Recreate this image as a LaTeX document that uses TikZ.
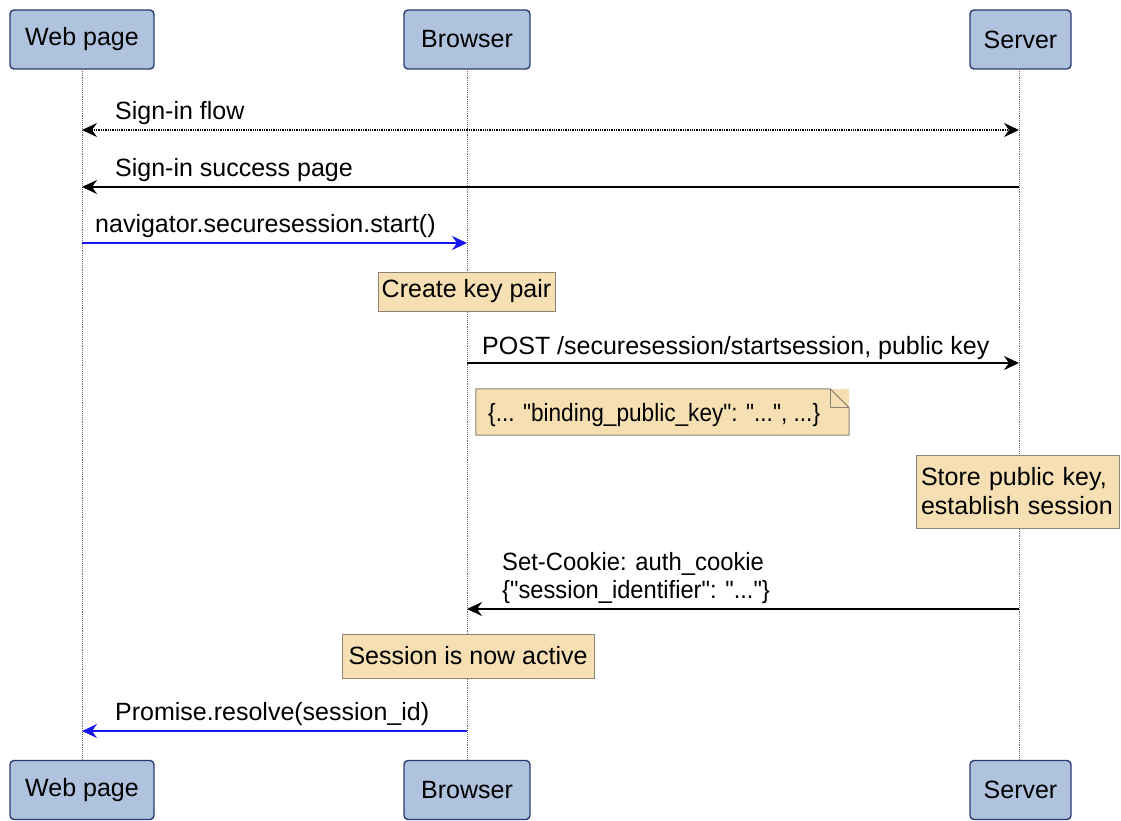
\documentclass[tikz,border=0pt]{standalone}
\usepackage{fontspec}
\usepackage{graphicx}
\setmainfont{Liberation Sans}[Ligatures=TeXOff]
\usetikzlibrary{arrows.meta}

\definecolor{actorfill}{HTML}{AFC3DF}
\definecolor{actorline}{HTML}{2B3A6E}
\definecolor{notefill}{HTML}{F5DFB3}
\definecolor{noteline}{HTML}{8C8474}
\definecolor{callblue}{HTML}{1616EE}
\definecolor{lifegray}{HTML}{6A6A78}

\begin{document}
\begin{tikzpicture}[x=1pt,y=-1pt,
  font=\fontsize{25}{29}\selectfont,
  actor/.style={draw=actorline, fill=actorfill, rounded corners=4pt,
    line width=1.4pt, minimum height=59pt, inner sep=0pt},
  lifeline/.style={draw=lifegray, densely dotted, line width=0.9pt},
  notebox/.style={draw=noteline, fill=notefill, line width=1pt, inner sep=0pt},
  tip/.style={-{Stealth[length=15pt,width=14pt,inset=5pt]}},
  msg/.style={tip, line width=1.5pt, black},
  call/.style={tip, line width=1.5pt, callblue},
  lbl/.style={anchor=base west, inner sep=0pt}]

\useasboundingbox (0,0) rectangle (1121,821);

% participants
\node[actor, minimum width=144pt] (webT) at (82,39.5)   {Web page};
\node[actor, minimum width=126pt] (brwT) at (467,39.5)  {Browser};
\node[actor, minimum width=101pt] (srvT) at (1020.5,39.5) {Server};
\node[actor, minimum width=144pt] (webB) at (82,790)    {Web page};
\node[actor, minimum width=126pt] (brwB) at (467,790)   {Browser};
\node[actor, minimum width=101pt] (srvB) at (1020.5,790) {Server};

% lifelines
\coordinate (webTop) at (82,69);    \coordinate (webBot) at (82,760.5);
\coordinate (brwTop) at (467,69);   \coordinate (brwBot) at (467,760.5);
\coordinate (srvTop) at (1019,69);  \coordinate (srvBot) at (1019,760.5);
\draw[lifeline] (webTop) -- (webBot);
\draw[lifeline] (brwTop) -- (brwBot);
\draw[lifeline] (srvTop) -- (srvBot);

% message end points
\coordinate (w1) at (82,130);   \coordinate (s1) at (1019,130);
\coordinate (w2) at (82,187);   \coordinate (s2) at (1019,187);
\coordinate (w3) at (82,243);   \coordinate (b3) at (467,243);
\coordinate (b5) at (467,363);  \coordinate (s5) at (1019,363);
\coordinate (b8) at (467,609);  \coordinate (s8) at (1019,609);
\coordinate (w10) at (82,731);  \coordinate (b10) at (467,731);

% sign-in flow (both directions)
\draw[line width=1.3pt, densely dotted, black,
  {Stealth[length=15pt,width=14pt,inset=5pt]}-{Stealth[length=15pt,width=14pt,inset=5pt]}]
  (w1) -- (s1);
\node[lbl] (m1) at (115,120) {Sign-in flow};

\draw[msg] (s2) -- (w2);
\node[lbl] (m2) at (115,177) {Sign-in success page};

\draw[call] (w3) -- (b3);
\node[lbl] (m3) at (95,233) {navigator.securesession.start()};

\node[notebox, minimum width=177pt, minimum height=39pt] (keypair) at (466.5,291.5) {Create key pair};

\draw[msg] (b5) -- (s5);
\node[lbl] (m5) at (482,354) {POST /securesession/startsession, public key};

% request body note with folded corner
\node[fill=notefill, inner sep=0pt, minimum width=373pt, minimum height=46pt] (body) at (662.5,412) {};
\node[lbl] (bodytxt) at (488,421)
  {\scalebox{0.905}[1]{\{... "binding\_public\_key": "...", ...\}}};
\draw[noteline, line width=1pt, line join=round]
  (body.north west) -- ([xshift=-19pt]body.north east)
  -- ([yshift=-19pt]body.north east) -- (body.south east)
  -- (body.south west) -- cycle;
\draw[noteline, line width=1pt, line join=round]
  ([xshift=-19pt]body.north east) -- ([xshift=-19pt,yshift=-19pt]body.north east)
  -- ([yshift=-19pt]body.north east);

\node[notebox, minimum width=203pt, minimum height=73pt, align=left,
  text width=193pt, inner xsep=5pt] (store) at (1017.5,491.5)
  {Store public key,\\establish session};

\draw[msg] (s8) -- (b8);
\node[lbl] (m8a) at (502,570) {\scalebox{0.953}[1]{Set-Cookie: auth\_cookie}};
\node[lbl] (m8b) at (502,598) {\scalebox{0.948}[1]{\{"session\_identifier": "..."\}}};

\node[notebox, minimum width=252pt, minimum height=44pt] (active) at (468,656) {Session is now active};

\draw[call] (b10) -- (w10);
\node[lbl] (m10) at (115,720) {Promise.resolve(session\_id)};

\end{tikzpicture}
\end{document}
